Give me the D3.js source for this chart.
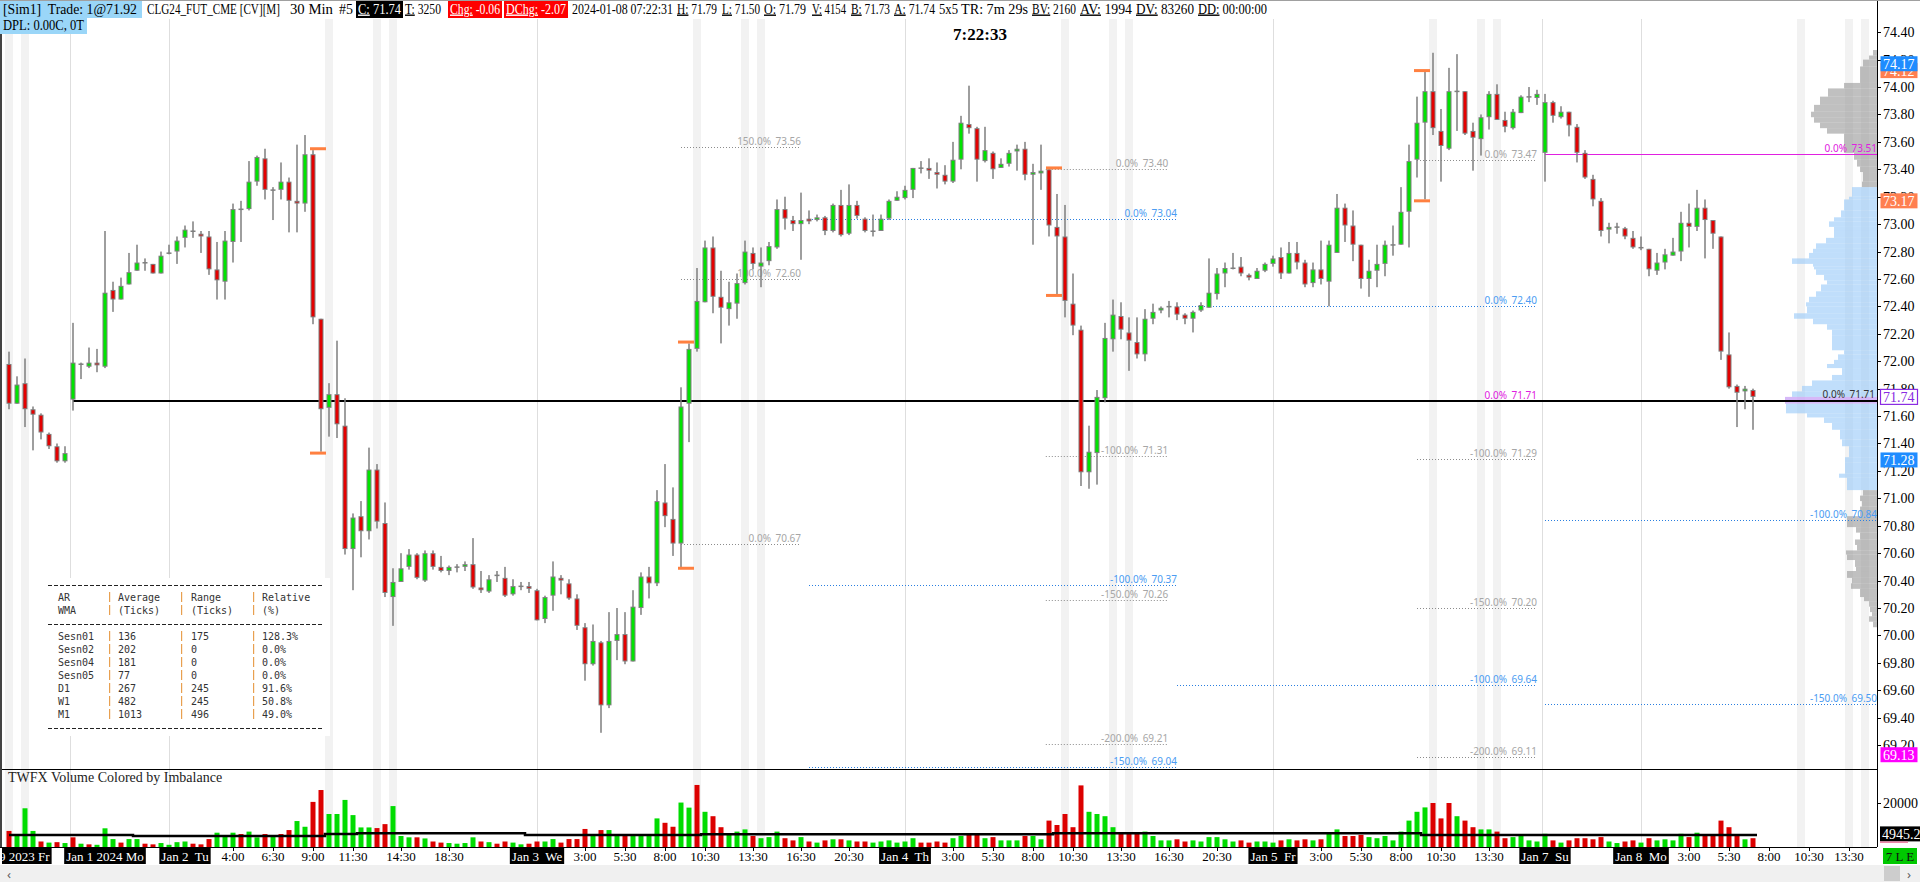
<!DOCTYPE html>
<html><head><meta charset="utf-8">
<script src="https://cdn.jsdelivr.net/npm/d3@7/dist/d3.min.js"></script>
<style>
html,body{margin:0;padding:0;background:#fff;overflow:hidden}
svg{display:block}
</style></head><body>
<svg id="c" width="1920" height="882"></svg>
<script>
// ---------------- DATA ----------------
const opens=[71.98,71.69,71.84,71.65,71.61,71.47,71.38,71.27,71.72,71.97,71.96,71.99,71.96,72.52,72.45,72.56,72.66,72.72,72.71,72.64,72.79,72.80,72.90,72.95,72.93,72.91,72.67,72.58,72.87,73.10,73.11,73.31,73.48,73.25,73.25,73.31,73.17,73.15,73.51,72.31,71.66,71.76,71.53,70.63,70.87,70.76,71.21,70.82,70.28,70.39,70.50,70.59,70.40,70.60,70.50,70.47,70.50,70.50,70.52,70.35,70.32,70.44,70.42,70.30,70.36,70.36,70.33,70.12,70.29,70.42,70.38,70.27,70.06,69.79,69.95,69.49,69.96,70.01,69.81,70.20,70.43,70.38,70.97,70.85,70.67,71.69,72.09,72.43,72.83,72.47,72.38,72.42,72.57,72.79,72.69,72.73,72.83,73.11,73.03,73.00,73.04,73.03,73.05,72.95,73.14,72.93,73.14,73.04,72.95,72.95,73.04,73.17,73.19,73.25,73.41,73.41,73.38,73.36,73.31,73.47,73.73,73.70,73.46,73.52,73.41,73.44,73.53,73.55,73.36,73.37,73.40,72.98,72.91,72.42,72.23,71.19,71.33,71.73,72.16,72.33,72.21,72.14,72.05,72.31,72.37,72.39,72.40,72.34,72.31,72.37,72.39,72.49,72.64,72.68,72.69,72.63,72.60,72.66,72.71,72.76,72.64,72.79,72.72,72.57,72.67,72.58,72.79,73.12,72.99,72.85,72.60,72.66,72.71,72.85,72.85,73.09,73.47,73.74,73.97,73.68,73.55,73.97,73.97,73.68,73.62,73.78,73.95,73.76,73.70,73.81,73.93,73.92,73.52,73.89,73.78,73.82,73.71,73.52,73.33,73.17,72.96,72.98,72.97,72.90,72.83,72.82,72.66,72.72,72.77,72.80,73.01,72.98,73.12,73.03,72.91,72.05,71.82,71.78,71.79];
const highs=[72.07,71.89,72.02,71.67,71.62,71.48,71.40,71.38,72.28,71.99,72.10,72.09,72.95,72.58,72.61,72.79,72.85,72.75,72.71,72.80,72.85,72.91,72.99,73.02,72.95,72.95,72.87,72.95,73.15,73.17,73.46,73.50,73.55,73.27,73.45,73.34,73.58,73.65,73.54,72.31,71.84,72.15,71.73,70.89,70.98,71.37,71.25,70.97,70.49,70.60,70.63,70.60,70.62,70.62,70.58,70.51,70.52,70.54,70.71,70.47,70.44,70.47,70.50,70.41,70.39,70.39,70.34,70.29,70.54,70.44,70.41,70.30,70.09,70.08,69.96,70.17,70.20,70.17,70.33,70.46,70.50,71.06,71.25,71.08,71.81,72.13,72.68,72.88,72.91,72.66,72.58,72.64,72.88,72.83,72.83,72.87,73.18,73.20,73.06,73.23,73.10,73.07,73.06,73.15,73.25,73.29,73.17,73.05,73.07,73.07,73.18,73.24,73.28,73.41,73.46,73.48,73.45,73.43,73.60,73.79,74.01,73.71,73.71,73.53,73.48,73.54,73.58,73.60,73.44,73.58,73.41,73.22,73.14,72.64,72.26,71.53,71.79,72.28,72.45,72.43,72.32,72.32,72.38,72.42,72.40,72.44,72.43,72.35,72.37,72.43,72.75,72.68,72.72,72.79,72.76,72.64,72.68,72.72,72.77,72.83,72.87,72.87,72.74,72.72,72.88,72.88,73.22,73.15,73.10,72.85,72.74,72.85,72.88,72.99,73.27,73.58,73.93,74.12,74.25,73.84,74.14,74.24,73.97,73.74,73.80,73.97,74.02,73.82,73.84,73.94,74.00,73.98,73.95,73.90,73.86,73.82,73.73,73.54,73.36,73.19,73.01,73.01,72.98,72.95,72.91,72.82,72.79,72.82,72.90,73.09,73.15,73.25,73.18,73.03,72.91,72.21,71.83,71.82,71.80];
const lows=[71.65,71.69,71.52,71.35,71.43,71.36,71.26,71.26,71.64,71.87,71.95,71.92,71.95,72.36,72.45,72.56,72.66,72.66,72.64,72.64,72.78,72.71,72.83,72.90,72.79,72.63,72.45,72.45,72.72,72.87,73.10,73.28,73.18,73.03,73.18,72.94,72.94,73.09,72.27,71.34,71.45,71.44,70.59,70.33,70.57,70.70,70.78,70.28,70.07,70.39,70.48,70.41,70.39,70.48,70.46,70.44,70.46,70.47,70.34,70.31,70.31,70.39,70.28,70.29,70.33,70.31,70.11,70.09,70.18,70.30,70.26,70.04,69.67,69.78,69.29,69.47,69.82,69.79,69.81,70.15,70.27,70.36,70.79,70.58,70.49,71.41,72.07,72.43,72.35,72.13,72.26,72.31,72.56,72.67,72.54,72.70,72.82,72.96,72.95,72.74,73.00,73.02,72.92,72.94,72.91,72.92,73.04,72.94,72.91,72.95,73.03,73.17,73.18,73.19,73.37,73.33,73.26,73.29,73.30,73.40,73.66,73.31,73.45,73.33,73.41,73.42,73.39,73.32,72.85,73.25,72.91,72.48,72.32,72.19,71.09,71.07,71.10,71.70,72.07,72.16,71.93,72.02,72.00,72.27,72.35,72.32,72.30,72.27,72.21,72.36,72.39,72.45,72.54,72.67,72.62,72.59,72.60,72.65,72.69,72.60,72.64,72.67,72.54,72.54,72.56,72.40,72.79,72.87,72.73,72.53,72.47,72.54,72.62,72.77,72.85,72.83,73.34,73.18,73.65,73.31,73.54,73.68,73.65,73.39,73.50,73.69,73.76,73.67,73.69,73.81,73.89,73.87,73.31,73.74,73.77,73.64,73.45,73.33,73.13,72.91,72.86,72.93,72.89,72.82,72.81,72.62,72.63,72.67,72.77,72.73,72.83,72.95,72.75,72.82,72.01,71.80,71.52,71.65,71.50];
const closes=[71.69,71.83,71.65,71.61,71.48,71.38,71.27,71.33,71.99,71.98,71.99,71.97,72.50,72.45,72.55,72.65,72.72,72.71,72.64,72.77,72.79,72.88,72.96,72.95,72.91,72.67,72.59,72.88,73.11,73.11,73.31,73.49,73.25,73.25,73.31,73.17,73.15,73.51,72.32,71.65,71.76,71.54,70.63,70.86,70.76,71.21,70.83,70.31,70.39,70.49,70.59,70.42,70.60,70.50,70.47,70.50,70.50,70.52,70.35,70.33,70.41,70.44,70.29,70.36,70.36,70.34,70.11,70.28,70.43,70.40,70.27,70.07,69.79,69.96,69.49,69.96,70.01,69.81,70.21,70.43,70.38,70.98,70.87,70.67,71.67,72.09,72.44,72.83,72.47,72.39,72.43,72.57,72.80,72.71,72.72,72.84,73.11,73.04,73.00,73.03,73.02,73.05,72.95,73.14,72.92,73.14,73.06,72.95,72.95,73.04,73.17,73.20,73.25,73.41,73.41,73.39,73.36,73.31,73.47,73.74,73.70,73.47,73.54,73.40,73.44,73.52,73.55,73.36,73.38,73.39,72.99,72.91,72.44,72.26,71.19,71.34,71.74,72.17,72.34,72.23,72.15,72.05,72.31,72.36,72.39,72.40,72.34,72.31,72.36,72.41,72.50,72.64,72.68,72.68,72.64,72.61,72.66,72.71,72.75,72.64,72.79,72.72,72.56,72.67,72.60,72.85,73.12,72.99,72.85,72.60,72.66,72.71,72.85,72.85,73.09,73.46,73.74,73.97,73.70,73.57,73.97,73.97,73.66,73.63,73.78,73.95,73.76,73.71,73.82,73.93,73.93,73.95,73.89,73.79,73.82,73.72,73.52,73.34,73.18,72.95,72.98,72.98,72.91,72.83,72.83,72.67,72.72,72.78,72.80,73.01,72.98,73.12,73.03,72.93,72.07,71.81,71.77,71.80,71.74];
const volumes=[7300,5400,17600,7300,2500,2000,2200,1800,4400,1500,1200,1000,8500,3600,2000,3600,3600,1500,1200,1800,1000,2200,2500,1500,1200,3600,6500,4700,6500,5900,7000,4400,5900,4700,5900,7700,11800,9200,20500,25900,15000,15000,21400,14500,8900,8900,8600,10400,18600,5000,4400,4400,3900,2500,2000,1800,1500,1800,4400,2500,2200,1500,2500,2000,1200,1500,2500,2500,3600,2000,3600,3600,8200,5400,7700,7700,5400,5000,5400,5400,5400,13000,11000,9200,20200,17900,28200,16000,14000,9000,6000,7000,8000,5000,4000,4500,7000,4000,3000,4500,2500,2000,3000,3500,3500,3000,2500,2500,2000,2500,3000,2000,2500,4000,2000,2000,2500,2000,4000,5000,6000,5500,4000,4500,3000,3000,3000,5000,5000,3500,12000,10000,15000,9000,28000,16000,15000,14000,9000,6000,6000,6500,7000,5000,3000,3000,3500,2500,3000,2500,4500,4500,3500,2500,3000,2000,2500,2500,2000,3000,3500,3000,3500,3000,3500,6000,8000,5000,5000,5500,4500,4000,5000,3000,7000,12000,16000,18000,20000,13000,20000,14000,12000,9000,8000,8000,7000,4000,4500,5000,3000,2500,6000,3000,2000,3000,4000,4000,3500,4500,2500,1800,2500,3000,2000,4000,3000,3500,3000,6000,4500,6500,5500,5000,12000,9000,5000,3500,4000];
const volSide=("rgggrgrgrg"+"rgggrggrrg"+"gggrrrgggr"+"ggrgrrggrr"+"ggggggrrgg"+"grgrrggggr"+"grrggrrggr"+"rrrgrggrgg"+"ggrrggrgrr"+"gggrgggrrg"+"rgrgrgrrgg"+"ggggrrrrgg"+"rrgrgggrgg"+"rrrrrggggr"+"rrggggrrgg"+"ggggrrgggr"+"grrgrggrrr"+"ggggggggrr"+"rgrrggrrgg"+"gggrgrrrrr"+"ggrrgrgggg"+"rgrrrrrgr").split('');
const avgVolFrom=[0,15.5,39.5,43.5,64.5,86.5,130.5,176.5];
const avgVolTo=[15.5,39.5,43.5,64.5,86.5,130.5,176.5,218.5];
const avgVolValue=[5450,5000,5900,6300,5450,5800,6200,5500];

const priceTicks=[74.40,74.20,74.00,73.80,73.60,73.40,73.20,73.00,72.80,72.60,72.40,72.20,72.00,71.80,71.60,71.40,71.20,71.00,70.80,70.60,70.40,70.20,70.00,69.80,69.60,69.40,69.20];
const volTicks=[20000];

const dateLabelBars=[0,12,22,66,112,158,192,204];
const dateLabelText=["Dec 29 2023 Fr","Jan 1 2024 Mo","Jan 2  Tu","Jan 3  We","Jan 4  Th","Jan 5  Fr","Jan 7  Su","Jan 8  Mo"];
const timeLabelBars=[28,33,38,43,49,55,72,77,82,87,93,99,105,118,123,128,133,139,145,151,164,169,174,179,185,210,215,220,225,230];
const timeLabelText=["4:00","6:30","9:00","11:30","14:30","18:30","3:00","5:30","8:00","10:30","13:30","16:30","20:30","3:00","5:30","8:00","10:30","13:30","16:30","20:30","3:00","5:30","8:00","10:30","13:30","3:00","5:30","8:00","10:30","13:30"];

const bandBars=[0,2,40,46,48,86,92,94,132,138,140,178,184,186,224,230,232];
const dayLineBars=[7.6,20,66,112,158,191.6,204];

const levelFrom=[84,84,84,129.6,129.6,129.6,129.6,176,176,176,176,100,100,100,146,146,192,192,192,176];
const levelTo=[99,99,99,144.9,144.9,144.9,144.9,191,191,191,191,146,146,146,191,191,233.5,233.5,233.5,191];
const levelPct=["150.0%","100.0%","0.0%","0.0%","-100.0%","-150.0%","-200.0%","0.0%","-100.0%","-150.0%","-200.0%","0.0%","-100.0%","-150.0%","0.0%","-100.0%","-100.0%","-150.0%","0.0%","0.0%"];
const levelPrice=[73.56,72.60,70.67,73.40,71.31,70.26,69.21,73.47,71.29,70.20,69.11,73.04,70.37,69.04,72.40,69.64,70.84,69.50,73.51,71.71];
const levelKind=["g","g","g","g","g","g","g","g","g","g","g","b","b","b","b","b","b","b","m","m"];
const refLineFrom=8, refLinePrice=71.71;

const markerBar=[38,84,130,176];
const markerHigh=[73.55,72.14,73.41,74.12];
const markerLow=[71.33,70.49,72.48,73.17];

const profileHi=[74.27,74.23,74.20,74.15,74.03,73.99,73.93,73.87,73.82,73.78,73.74,73.70,73.66,73.52,73.47,73.42,73.38,73.31,
 73.27,73.20,73.18,73.10,73.05,73.02,72.98,72.95,72.90,72.86,72.82,72.79,72.75,72.71,72.69,72.67,72.63,72.59,72.56,72.51,72.47,72.43,72.40,72.35,72.31,72.27,72.23,72.19,72.08,72.05,72.01,71.98,71.95,71.90,71.86,71.82,71.78,71.74,71.69,71.62,71.59,71.55,71.50,71.43,71.38,71.30,71.26,71.18,71.15,
 71.06,71.02,70.98,70.94,70.87,70.79,70.75,70.70,70.66,70.62,70.59,70.55,70.50,70.47,70.42,70.38,70.34,70.28,70.25,70.21,70.17,70.14,70.10];
const profileLo=profileHi.slice(1).concat([70.06]);
const profileVol=[4,8,14,17,33,49,57,63,66,63,57,50,33,23,20,17,14,15,
 25,28,33,36,43,48,43,43,51,61,64,68,85,64,63,61,53,50,56,61,68,71,70,83,64,50,45,45,33,39,43,50,35,45,65,75,85,92,91,70,53,45,37,35,28,32,32,38,30,
 14,17,15,17,30,21,17,22,20,31,30,22,21,30,25,26,17,13,8,7,5,8,4];
const valueAreaHi=73.28, valueAreaLo=71.07, pocPrice=71.74;

const tableHead1=["AR","Average","Range","Relative"];
const tableHead2=["WMA","(Ticks)","(Ticks)","(%)"];
const tableNames=["Sesn01","Sesn02","Sesn04","Sesn05","D1","W1","M1"];
const tableAvg=["136","202","181","77","267","482","1013"];
const tableRange=["175","0","0","0","245","245","496"];
const tableRel=["128.3%","0.0%","0.0%","0.0%","91.6%","50.8%","49.0%"];

const tagPrices=[74.12,74.17,73.17,71.74,71.28,69.13];
const tagKind=["orange","blue","orange","last","blue","magenta"];

const headerText=["[Sim1]  Trade: 1@71.92","CLG24_FUT_CME [CV][M]","30 Min","#5","C:| 71.74","T:| 3250","Chg:| -0.06","DChg:| -2.07","2024-01-08 07:22:31","H:| 71.79","L:| 71.50","O:| 71.79","V:| 4154","B:| 71.73","A:| 71.74","5x5","TR: 7m 29s","BV:| 2160","AV:| 1994","DV:| 83260","DD:| 00:00:00"];
const headerBg=["#9ad6f8",null,null,null,"#000",null,"#ff0000","#ff0000",null,null,null,null,null,null,null,null,null,null,null,null,null];
const headerX=[3,147,290,339,358,405,450,506,572,677,722,764,812,851,894,939,961,1032,1080,1136,1198];
const headerW=[134,133,43,14,43,36,50,60,101,40,38,42,34,39,41,19,67,44,52,58,69];

// ---------------- LAYOUT ----------------
const W=1920,H=882,axisX=1877,panelTop=19,priceBottom=769,volBottom=847;
const SERIF="'Liberation Serif','Times New Roman',serif";
const SANS="'Noto Sans','DejaVu Sans',sans-serif";
const MONO="'DejaVu Sans Mono','Liberation Mono',monospace";
const GREEN="#00e400",RED="#e40000",WICK="#7f7f7f";

const svg=d3.select('#c');
const x=d3.scaleLinear().domain([0,1]).range([9,17]);
const y=d3.scaleLinear().domain([74.40,69.20]).range([32.2,745.12]);
const yv=d3.scaleLinear().domain([0,20000]).range([volBottom,803]);
const pw=d3.scaleLinear().domain([0,100]).range([0,100]);

svg.append('rect').attr('width',W).attr('height',H).attr('fill','#fff');
const defs=svg.append('defs');
defs.append('clipPath').attr('id','cp').append('rect').attr('x',2).attr('y',panelTop).attr('width',axisX-2).attr('height',priceBottom-panelTop);
defs.append('clipPath').attr('id','cv').append('rect').attr('x',2).attr('y',priceBottom).attr('width',axisX-2).attr('height',volBottom-priceBottom);
defs.append('clipPath').attr('id','ct').append('rect').attr('x',2).attr('y',volBottom).attr('width',axisX-2).attr('height',18);

// bands
['cp','cv'].forEach(c=>{
 svg.append('g').attr('clip-path',`url(#${c})`).selectAll('rect').data(bandBars).join('rect')
  .attr('x',d=>x(d)-4).attr('width',8).attr('y',panelTop).attr('height',volBottom-panelTop)
  .attr('fill','#f2f2f2');
});
// day lines
svg.append('g').selectAll('line').data(dayLineBars).join('line')
 .attr('x1',d=>Math.round(x(d))+0.5).attr('x2',d=>Math.round(x(d))+0.5).attr('y1',panelTop).attr('y2',volBottom)
 .attr('stroke','#dedede').attr('stroke-width',1);

// volume profile
const profColor={g:'rgba(150,150,150,0.6)',b:'rgba(150,200,248,0.6)',p:'rgba(200,160,245,0.75)'};
const zoneOf=(i)=>{const p=profileHi[i]; if(p>valueAreaHi||p<valueAreaLo) return 'g'; if(Math.abs(p-pocPrice)<0.001) return 'p'; return 'b';};
svg.append('g').attr('clip-path','url(#cp)').selectAll('rect').data(profileHi).join('rect')
 .attr('x',(d,i)=>axisX-pw(profileVol[i])).attr('width',(d,i)=>pw(profileVol[i]))
 .attr('y',(d,i)=>y(profileHi[i])).attr('height',(d,i)=>Math.max(1,y(profileLo[i])-y(profileHi[i])))
 .attr('fill',(d,i)=>profColor[zoneOf(i)]);

// levels
const lvCol={g:'#8c8c8c',b:'#2a7fe0',m:'#e020e0'};
const lvTxt={g:'#a6a6a6',b:'#4b9cf2',m:'#e020e0'};
const lv=svg.append('g').attr('clip-path','url(#cp)');
levelPrice.forEach((p,i)=>{
  const k=levelKind[i];
  const x1=x(levelFrom[i]), x2=Math.min(axisX,x(levelTo[i]));
  const yy=Math.round(y(p))+0.5;
  lv.append('line').attr('x1',x1).attr('x2',x2).attr('y1',yy).attr('y2',yy)
    .attr('stroke',lvCol[k]).attr('stroke-width',1)
    .attr('stroke-dasharray',(k==='m'&&levelTo[i]>230)?null:'1,2');
  lv.append('text').attr('x',x2-30).attr('y',yy-2.5).attr('text-anchor','end')
    .attr('font-family',SANS).attr('font-size',10).attr('fill',lvTxt[k]).text(levelPct[i]);
  lv.append('text').attr('x',x2).attr('y',yy-2.5).attr('text-anchor','end')
    .attr('font-family',SANS).attr('font-size',10).attr('fill',lvTxt[k]).text(p.toFixed(2));
});
// reference black line
const refY=Math.round(y(refLinePrice));
svg.append('line').attr('x1',x(refLineFrom)).attr('x2',axisX).attr('y1',refY).attr('y2',refY)
 .attr('stroke','#000').attr('stroke-width',2);
svg.append('text').attr('x',axisX-32).attr('y',refY-3).attr('text-anchor','end').attr('font-family',SANS).attr('font-size',10).attr('fill','#333').text('0.0%');
svg.append('text').attr('x',axisX-2).attr('y',refY-3).attr('text-anchor','end').attr('font-family',SANS).attr('font-size',10).attr('fill','#333').text(refLinePrice.toFixed(2));

// candles
const cg=svg.append('g').attr('clip-path','url(#cp)');
opens.forEach((o,i)=>{
  const c=closes[i],h=highs[i],l=lows[i],cx=x(i);
  cg.append('rect').attr('x',cx-0.75).attr('width',1.5).attr('y',y(h)).attr('height',Math.max(1,y(l)-y(h))).attr('fill',WICK);
  const top=y(Math.max(o,c)), bot=y(Math.min(o,c));
  const hh=bot-top;
  if(hh<1.5){
    cg.append('rect').attr('x',cx-2.5).attr('width',5).attr('y',top-0.5).attr('height',1.5).attr('fill',WICK);
  } else {
    cg.append('rect').attr('x',cx-2.5).attr('width',5).attr('y',top).attr('height',hh).attr('fill',WICK);
    cg.append('rect').attr('x',cx-1.5).attr('width',3).attr('y',top+1).attr('height',Math.max(0.5,hh-2)).attr('fill',c>=o?GREEN:RED);
  }
});
// orange markers
const mg=svg.append('g');
markerBar.forEach((b,i)=>{
  [markerHigh[i],markerLow[i]].forEach(p=>{
    mg.append('rect').attr('x',x(b)-3).attr('width',16).attr('y',y(p)-1.5).attr('height',3).attr('fill','#ff8040');
  });
});

// table
const tx=[58,118,191,262], sx=[109,181,253];
const tg=svg.append('g');
tg.append('rect').attr('x',44).attr('y',578).attr('width',286).attr('height',158).attr('fill','#fff');
[585,624,728].forEach(yy=>tg.append('line').attr('x1',48).attr('x2',322).attr('y1',yy+0.5).attr('y2',yy+0.5).attr('stroke','#222').attr('stroke-dasharray','4,2'));
const trow=(vals,yy)=>{
  vals.forEach((v,j)=>tg.append('text').attr('x',tx[j]).attr('y',yy).attr('dominant-baseline','central').attr('font-family',MONO).attr('font-size',10).attr('fill','#333').text(v));
  sx.forEach(s=>tg.append('rect').attr('x',s).attr('y',yy-5).attr('width',1.2).attr('height',10).attr('fill','#e8a050'));
};
trow(tableHead1,597); trow(tableHead2,610);
tableNames.forEach((n,k)=>trow([n,tableAvg[k],tableRange[k],tableRel[k]],636+13*k));

// volume bars
const vg=svg.append('g').attr('clip-path','url(#cv)');
volumes.forEach((v,i)=>{
  vg.append('rect').attr('x',x(i)-2.5).attr('width',5).attr('y',yv(v)).attr('height',volBottom-yv(v))
    .attr('fill',volSide[i]==='g'?'#00dc00':'#dc0000');
});
const avgPts=[];
avgVolFrom.forEach((f,i)=>{avgPts.push([x(f),yv(avgVolValue[i])]);avgPts.push([x(avgVolTo[i]),yv(avgVolValue[i])]);});
vg.append('path').attr('d',d3.line()(avgPts)).attr('fill','none').attr('stroke','#000').attr('stroke-width',2.5);
svg.append('text').attr('x',8).attr('y',782).attr('font-family',SERIF).attr('font-size',14).attr('fill','#222').text('TWFX Volume Colored by Imbalance');

// frame lines
svg.append('line').attr('x1',0).attr('x2',axisX).attr('y1',priceBottom+0.5).attr('y2',priceBottom+0.5).attr('stroke','#000');
svg.append('line').attr('x1',0).attr('x2',axisX).attr('y1',volBottom+0.5).attr('y2',volBottom+0.5).attr('stroke','#000');
svg.append('line').attr('x1',axisX+0.5).attr('x2',axisX+0.5).attr('y1',0).attr('y2',volBottom).attr('stroke','#000');
svg.append('line').attr('x1',1).attr('x2',1).attr('y1',0).attr('y2',volBottom).attr('stroke','#444').attr('stroke-width',2);
svg.append('line').attr('x1',0).attr('x2',W).attr('y1',0.5).attr('y2',0.5).attr('stroke','#a0a0a0');

// price axis
const ax=svg.append('g');
priceTicks.forEach(p=>{
  const yy=Math.round(y(p))+0.5;
  ax.append('line').attr('x1',axisX).attr('x2',axisX+4).attr('y1',yy).attr('y2',yy).attr('stroke','#000');
  ax.append('text').attr('x',axisX+6).attr('y',yy).attr('dominant-baseline','central').attr('font-family',SERIF).attr('font-size',14).attr('fill','#000').text(p.toFixed(2));
});
volTicks.forEach(v=>{
  const yy=Math.round(yv(v))+0.5;
  ax.append('line').attr('x1',axisX).attr('x2',axisX+4).attr('y1',yy).attr('y2',yy).attr('stroke','#000');
  ax.append('text').attr('x',axisX+6).attr('y',yy).attr('dominant-baseline','central').attr('font-family',SERIF).attr('font-size',14).attr('fill','#000').text(v);
});
// tags
const tagStyle={orange:['#ff7f50','#fff',null],blue:['#1e8cff','#fff',null],last:['#fff','#8a2be2','#8a2be2'],magenta:['#ff00ff','#fff',null]};
tagPrices.forEach((p,i)=>{
  const st=tagStyle[tagKind[i]], yy=y(p);
  ax.append('rect').attr('x',axisX+3.5).attr('y',yy-7.5).attr('width',37).attr('height',15).attr('fill',st[0]).attr('stroke',st[2]).attr('stroke-width',st[2]?1.2:0);
  ax.append('text').attr('x',axisX+6).attr('y',yy+0.5).attr('dominant-baseline','central').attr('font-family',SERIF).attr('font-size',14).attr('fill',st[1]).text(p.toFixed(2));
});
{const yy=yv(avgVolValue[avgVolValue.length-1])-1;
 ax.append('rect').attr('x',axisX+3).attr('y',yy-7.5).attr('width',43).attr('height',15).attr('fill','#000');
 ax.append('text').attr('x',axisX+5).attr('y',yy+0.5).attr('dominant-baseline','central').attr('font-family',SERIF).attr('font-size',14).attr('fill','#fff').text('4945.2');
 ax.append('rect').attr('x',axisX+3).attr('y',yy+7.5).attr('width',28).attr('height',1.5).attr('fill','#e87aa0');}

// time axis
const ta=svg.append('g').attr('clip-path','url(#ct)');
timeLabelBars.forEach((b,i)=>{
  ta.append('line').attr('x1',x(b)+0.5).attr('x2',x(b)+0.5).attr('y1',volBottom).attr('y2',volBottom+4).attr('stroke','#000');
  ta.append('text').attr('x',x(b)).attr('y',856).attr('text-anchor','middle').attr('dominant-baseline','central').attr('font-family',SERIF).attr('font-size',13).attr('fill','#000').text(timeLabelText[i]);
});
dateLabelBars.forEach((b,i)=>{
  const t=ta.append('text').attr('x',x(b)).attr('y',856).attr('text-anchor','middle').attr('dominant-baseline','central')
   .attr('font-family',SERIF).attr('font-size',13).attr('fill','#fff').style('white-space','pre').text(dateLabelText[i]);
  const w=t.node().getComputedTextLength();
  ta.insert('rect','text').attr('x',x(b)-w/2-2).attr('y',848).attr('width',w+4).attr('height',16).attr('fill','#000');
});
svg.append('rect').attr('x',1883).attr('y',848).attr('width',34).attr('height',16).attr('fill','#00c800');
svg.append('text').attr('x',1900).attr('y',856.5).attr('text-anchor','middle').attr('dominant-baseline','central').attr('font-family',SERIF).attr('font-size',13).attr('fill','#111').style('white-space','pre').text('7 L E');
// scrollbar
svg.append('rect').attr('x',0).attr('y',865).attr('width',W).attr('height',17).attr('fill','#f0f0f0');
svg.append('rect').attr('x',1884).attr('y',866).attr('width',16).attr('height',15).attr('fill','#cdcdcd');
svg.append('text').attr('x',9).attr('y',874).attr('text-anchor','middle').attr('dominant-baseline','central').attr('font-family',SANS).attr('font-size',13).attr('fill','#606060').text('‹');
svg.append('text').attr('x',1909).attr('y',874).attr('text-anchor','middle').attr('dominant-baseline','central').attr('font-family',SANS).attr('font-size',13).attr('fill','#606060').text('›');

// header
const hg=svg.append('g');
hg.append('rect').attr('x',0).attr('y',1).attr('width',axisX).attr('height',17).attr('fill','#fff');
const boxes=hg.append('g'), texts=hg.append('g');
headerText.forEach((s,i)=>{
  const parts=s.split('|');
  const fg=headerBg[i]&&headerBg[i]!=='#9ad6f8'?'#fff':'#000';
  const t=texts.append('text').attr('x',headerX[i]).attr('y',13.5).attr('font-family',SERIF).attr('font-size',14)
     .attr('fill',fg).style('white-space','pre')
     .attr('textLength',headerW[i]).attr('lengthAdjust','spacingAndGlyphs');
  parts.forEach((p,k)=>{const ts=t.append('tspan').text(p); if(parts.length>1&&k===0) ts.attr('text-decoration','underline');});
  if(headerBg[i]){
    const bx=i===0?0:headerX[i]-2, bw=i===0?headerX[i]+headerW[i]+5:headerW[i]+4;
    boxes.append('rect').attr('x',bx).attr('y',1).attr('width',bw).attr('height',17).attr('fill',headerBg[i]);
  }
});
hg.append('rect').attr('x',0).attr('y',18).attr('width',87).attr('height',16).attr('fill','#9ad6f8');
hg.append('text').attr('x',3).attr('y',30).attr('font-family',SERIF).attr('font-size',14).attr('fill','#000')
  .attr('textLength',81).attr('lengthAdjust','spacingAndGlyphs').style('white-space','pre').text('DPL: 0.00C, 0T');
hg.append('text').attr('x',980).attr('y',40).attr('text-anchor','middle').attr('font-family',SERIF).attr('font-weight','bold').attr('font-size',17).attr('fill','#000').text('7:22:33');
</script>
</body></html>
